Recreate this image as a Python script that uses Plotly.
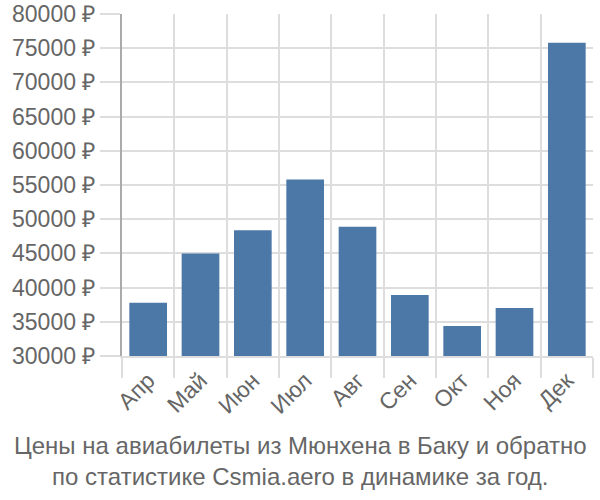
import plotly.graph_objects as go

months = ["Апр", "Май", "Июн", "Июл", "Авг", "Сен", "Окт", "Ноя", "Дек"]
prices = [37800, 45000, 48400, 55800, 48900, 38900, 34400, 37000, 75800]
y_ticks = list(range(30000, 80001, 5000))
y_labels = [f"{v} ₽" for v in y_ticks]
title_lines = ["Цены на авиабилеты из Мюнхена в Баку и обратно",
               "по статистике Csmia.aero в динамике за год."]

font_family = "Liberation Sans, Arial, sans-serif"
grey = "#666666"
fs = 23

fig = go.Figure(go.Bar(x=months, y=prices, marker=dict(color="#4c78a8", line=dict(width=0))))

fig.update_layout(
    width=600, height=500,
    margin=dict(l=122, r=7, t=14, b=144),
    plot_bgcolor="white", paper_bgcolor="white",
    bargap=0.28,
    showlegend=False,
    font=dict(family=font_family, size=fs, color=grey),
)
fig.update_xaxes(
    type="category", tickson="boundaries", ticks="outside", ticklen=20,
    tickcolor="#dddddd", tickwidth=2, showgrid=True, gridcolor="#dddddd", gridwidth=2,
    tickangle=-45, tickfont=dict(size=fs, color=grey), automargin=False,
    showline=True, linecolor="#dddddd", linewidth=2,
)
fig.update_yaxes(
    range=[30000, 80000], tickvals=y_ticks, ticktext=y_labels,
    ticks="outside", ticklen=20, tickcolor="#dddddd", tickwidth=2,
    showgrid=True, gridcolor="#dddddd", gridwidth=2, automargin=False,
    showline=True, linecolor="#aaaaaa", linewidth=2,
    tickfont=dict(size=fs, color=grey), zeroline=False,
)
fig.add_annotation(
    text="<br>".join(title_lines), xref="paper", yref="paper",
    x=(300 - 122) / (600 - 122 - 7), y=0, xanchor="center", yanchor="top", yshift=-74,
    showarrow=False, font=dict(size=24, color=grey), align="center",
)

fig.write_html("out.html")
